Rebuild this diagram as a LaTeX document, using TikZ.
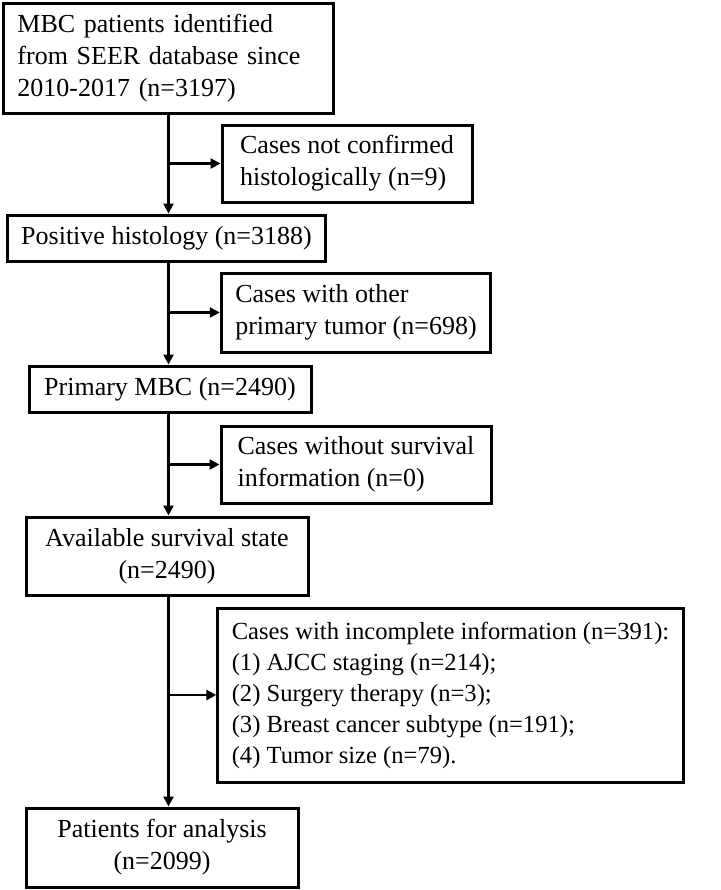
\documentclass[tikz,border=0pt]{standalone}
\usepackage{fontspec}
\setmainfont{Liberation Serif}
\usepackage{tikz}
\usetikzlibrary{arrows.meta,positioning}

\begin{document}
\begin{tikzpicture}
              [x=0.5pt,y=-0.5pt,
                every node/.style={rectangle,draw,line width=1.5pt,inner ysep=0pt,inner xsep=7pt,
                  font=\fontsize{13}{16}\selectfont},
                mainbox/.style={align=center},
                sidebox/.style={align=left},
                listbox/.style={align=left,font=\fontsize{12.3}{15.5}\selectfont},
                link/.style={line width=1.3pt,-{Triangle[length=5pt,width=5pt]}}]
              \useasboundingbox (0,0) rectangle (720,890);
              \node[sidebox,text width=151pt,minimum height=55pt] (src) at (168.5,58)
                {MBC patients identified\\from SEER database since\\2010-2017 (n=3197)};
              \node[sidebox,minimum width=125pt,minimum height=38.5pt] (excl1) at (347,163.5)
                {Cases not confirmed\\histologically (n=9)};
              \node[mainbox,minimum width=158.5pt,minimum height=23pt] (pos) at (166.5,238)
                {Positive histology (n=3188)};
              \node[sidebox,minimum width=134pt,minimum height=39.5pt] (excl2) at (356,312.5)
                {Cases with other\\primary tumor (n=698)};
              \node[mainbox,minimum width=141pt,minimum height=23pt] (prim) at (170,389)
                {Primary MBC (n=2490)};
              \node[sidebox,minimum width=135pt,minimum height=38.5pt] (excl3) at (356,464.5)
                {Cases without survival\\information (n=0)};
              \node[mainbox,minimum width=141pt,minimum height=39pt] (avail) at (167,556)
                {Available survival state\\(n=2490)};
              \node[listbox,minimum width=228.5pt,minimum height=87pt] (excl4) at (450.5,695)
                {Cases with incomplete information (n=391):\\(1) AJCC staging (n=214);\\(2) Surgery therapy (n=3);\\(3) Breast cancer subtype (n=191);\\(4) Tumor size (n=79).};
              \node[mainbox,minimum width=136pt,minimum height=39.5pt] (final) at (162,847.5)
                {Patients for analysis\\(n=2099)};
              \foreach \from/\to in {src/pos,pos/prim,prim/avail,avail/final}
              \draw[link] (\from.south -| src.south) -- (\to.north -| src.south);
              \foreach \from/\to in {src/excl1,pos/excl2,prim/excl3,avail/excl4}
              \draw[link] (\to.west -| src.south) -- (\to.west);
            \end{tikzpicture}
\end{document}
